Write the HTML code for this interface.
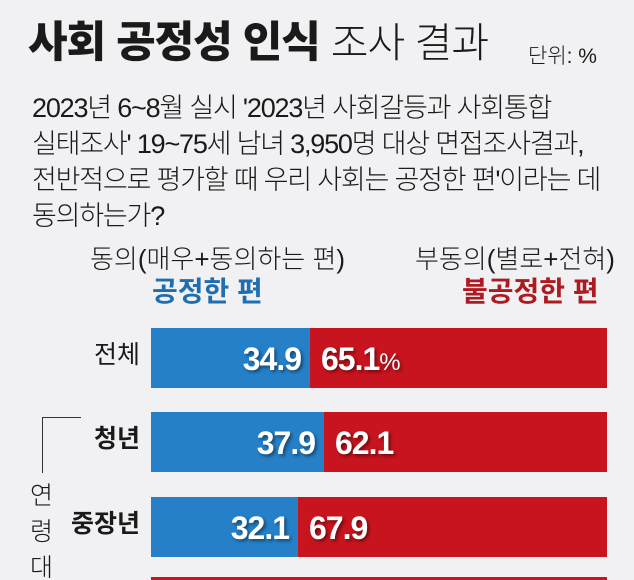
<!DOCTYPE html><html><head><meta charset="utf-8"><style>
html,body{margin:0;width:634px;height:580px;overflow:hidden}
body{background:#f1f1f3;position:relative;font-family:"Liberation Sans","Noto Sans CJK KR",sans-serif;color:#1a1a1a}
.a{position:absolute;white-space:nowrap;line-height:1}
.bar{position:absolute;left:151px;width:456px;height:60px;background:#c8141e}
.bl{position:absolute;left:0;top:0;height:100%;background:#2580c8}
.v{position:absolute;top:13px;font-size:32px;font-weight:bold;color:#fff;letter-spacing:-1px;text-shadow:2px 2px 3px rgba(0,0,0,.45)}
.lab{position:absolute;font-size:25px;right:494px;line-height:1}
</style></head><body>
<div class="a" style="left:28px;top:22px;font-size:43px;font-weight:900;letter-spacing:-1px">사회 공정성 인식 <span style="font-weight:300;font-size:41px">조사 결과</span></div>
<div class="a" style="left:528px;top:46px;font-size:21px;font-weight:300">단위: %</div>
<div class="a" style="left:32px;top:90px;font-size:27px;font-weight:300;line-height:36px;letter-spacing:-1.2px">2023년 6~8월 실시 '2023년 사회갈등과 사회통합<br>실태조사' 19~75세 남녀 3,950명 대상 면접조사결과,<br>전반적으로 평가할 때 우리 사회는 공정한 편'이라는 데<br>동의하는가?</div>
<div class="a" style="left:90px;top:246px;font-size:26px;font-weight:300;letter-spacing:0px">동의(매우+동의하는 편)</div>
<div class="a" style="left:415px;top:246px;font-size:26px;font-weight:300;letter-spacing:0px">부동의(별로+전혀)</div>
<div class="a" style="left:152px;top:278px;font-size:28px;font-weight:bold;color:#1f6fb0">공정한 편</div>
<div class="a" style="left:462px;top:278px;font-size:28px;font-weight:bold;color:#ad1a20">불공정한 편</div>

<div class="bar" style="top:328px"><div class="bl" style="width:159px"></div><div class="v" style="right:306px">34.9</div><div class="v" style="left:170px">65.1<span style="font-weight:300;font-size:24px">%</span></div></div>
<div class="lab" style="top:343px">전체</div>
<div class="bar" style="top:412px"><div class="bl" style="width:173px"></div><div class="v" style="right:292px">37.9</div><div class="v" style="left:184px">62.1</div></div>
<div class="lab" style="top:427px;font-weight:bold">청년</div>
<div class="bar" style="top:497px"><div class="bl" style="width:147px"></div><div class="v" style="right:318px">32.1</div><div class="v" style="left:158px">67.9</div></div>
<div class="lab" style="top:512px;font-weight:bold">중장년</div>
<div class="bar" style="top:577px;height:3px"></div>

<div style="position:absolute;left:42px;top:417px;width:39px;height:1px;background:#333"></div>
<div style="position:absolute;left:42px;top:417px;width:1px;height:56px;background:#333"></div>
<div class="a" style="left:30px;top:478px;font-size:25px;font-weight:300;line-height:36px">연<br>령<br>대</div>
</body></html>
